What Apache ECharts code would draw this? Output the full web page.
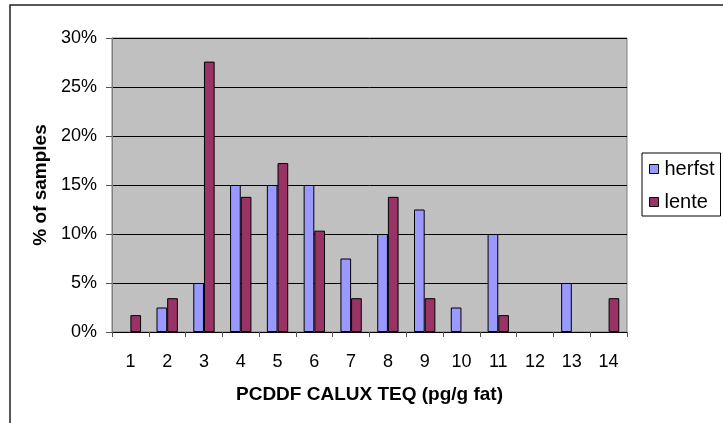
<!DOCTYPE html>
<html>
<head>
<meta charset="utf-8">
<script src="https://cdn.jsdelivr.net/npm/echarts@6/dist/echarts.min.js"></script>
<style>
  html, body { margin: 0; padding: 0; background: #fff; }
  #chart { width: 723px; height: 423px; }
</style>
</head>
<body>
<div id="chart"></div>
<script>
// categories on the x axis (TEQ classes)
const categories = ['1', '2', '3', '4', '5', '6', '7', '8', '9', '10', '11', '12', '13', '14']
// % of samples per class
const herfst = [0, 2.5, 5, 15, 15, 15, 7.5, 10, 12.5, 2.5, 10, 0, 5, 0]
const lente = [1.72, 3.45, 27.59, 13.79, 17.24, 10.34, 3.45, 13.79, 3.45, 0, 1.72, 0, 0, 3.45]
const yTicks = [0, 5, 10, 15, 20, 25, 30]

const font = 'Liberation Sans, Arial, sans-serif'

const chart = echarts.init(document.getElementById('chart'), null, { renderer: 'canvas' })

// empty classes get no bar at all (no border line on the axis)
const toBars = (arr) => arr.map(v => (v === 0 ? '-' : v))

const barStyle = (color) => ({
  color: color,
  borderColor: '#000',
  borderWidth: 1
})

const option = {
  animation: false,
  textStyle: { fontFamily: font, color: '#000' },
  // outer chart frame, only left and top edges are inside the window
  graphic: [{
    type: 'rect',
    shape: { x: 10, y: 5, width: 800, height: 600 },
    style: { fill: 'none', stroke: '#222', lineWidth: 1.5 },
    silent: true
  }],
  grid: {
    left: 112, top: 38, right: 96, bottom: 91,
    show: true,
    backgroundColor: '#c0c0c0',
    borderColor: '#808080',
    borderWidth: 1
  },
  legend: {
    orient: 'vertical',
    left: 642, top: 153,
    padding: [6, 6, 4, 7],
    itemWidth: 9, itemHeight: 9, itemGap: 13,
    borderColor: '#000', borderWidth: 1,
    backgroundColor: '#fff',
    icon: 'rect',
    itemStyle: { borderColor: '#000', borderWidth: 1 },
    textStyle: { fontFamily: font, fontSize: 20, color: '#000', padding: [0, 0, 0, 1] },
    data: ['herfst', 'lente']
  },
  xAxis: {
    type: 'category',
    data: categories,
    name: 'PCDDF CALUX TEQ (pg/g fat)',
    nameLocation: 'middle',
    nameGap: 53,
    nameTextStyle: { fontFamily: font, fontSize: 19, fontWeight: 'bold', color: '#000' },
    axisLine: { lineStyle: { color: '#000', width: 1 } },
    axisTick: { show: true, length: 5, lineStyle: { color: '#555' } },
    axisLabel: { fontFamily: font, fontSize: 18, color: '#000', margin: 21 }
  },
  yAxis: {
    type: 'value',
    min: yTicks[0], max: yTicks[yTicks.length - 1], interval: 5,
    name: '% of samples',
    nameLocation: 'middle',
    nameGap: 59,
    nameTextStyle: { fontFamily: font, fontSize: 19, fontWeight: 'bold', color: '#000' },
    axisLine: { show: true, lineStyle: { color: '#808080', width: 1 } },
    axisTick: { show: true, length: 6, lineStyle: { color: '#555' } },
    axisLabel: { fontFamily: font, fontSize: 18, color: '#000', margin: 15, formatter: '{value}%' },
    splitLine: { lineStyle: { color: '#000', width: 1 } }
  },
  series: [
    {
      name: 'herfst',
      type: 'bar',
      data: toBars(herfst),
      barGap: '0%',
      barCategoryGap: '42%',
      itemStyle: barStyle('#9999ff')
    },
    {
      name: 'lente',
      type: 'bar',
      data: toBars(lente),
      barGap: '0%',
      barCategoryGap: '42%',
      itemStyle: barStyle('#993366')
    }
  ]
}

chart.setOption(option)
</script>
</body>
</html>
